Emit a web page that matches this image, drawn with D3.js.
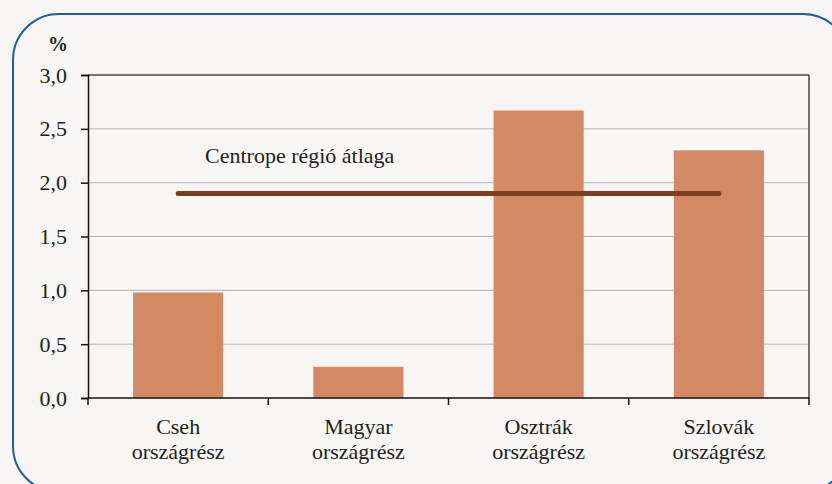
<!DOCTYPE html>
<html lang="hu">
<head>
<meta charset="UTF-8">
<title>Centrope</title>
<style>
  body { margin: 0; background: #f7f6f4; }
  svg { display: block; }
</style>
</head>
<body>
<script src="https://cdn.jsdelivr.net/npm/d3@7"></script>
<script>
    var width = 832,
        height = 484;

    // adatok
    var categories = [["Cseh", "országrész"], ["Magyar", "országrész"], ["Osztrák", "országrész"], ["Szlovák", "országrész"]];
    var values = [0.98, 0.29, 2.67, 2.30];
    var average = 1.90;
    var averageLabel = "Centrope régió átlaga";
    var yTicks = [0, 0.5, 1.0, 1.5, 2.0, 2.5, 3.0];

    var margin = {left: 88, right: 23, top: 75, bottom: 86};
    var font = "'Liberation Serif', 'DejaVu Serif', serif";

    var svg = d3.select("body").append("svg")
        .attr("width", width)
        .attr("height", height);

    svg.append("rect")
        .attr("x", 0).attr("y", 0).attr("width", width).attr("height", height)
        .attr("fill", "#f7f6f4");

    // keret
    svg.append("rect")
        .attr("x", 13).attr("y", 14)
        .attr("width", 836).attr("height", 478)
        .attr("rx", 46).attr("ry", 46)
        .attr("fill", "none")
        .attr("stroke", "#1a5e9f")
        .attr("stroke-width", 2);

    var x = d3.scaleBand()
        .domain(d3.range(categories.length))
        .range([margin.left, width - margin.right])
        .paddingInner(0.5).paddingOuter(0.25);

    var y = d3.scaleLinear()
        .domain([0, 3])
        .range([height - margin.bottom, margin.top]);

    var g = svg.append("g");

    // rácsvonalak
    g.selectAll("line.grid").data(yTicks.slice(1)).enter().append("line")
        .attr("class", "grid")
        .attr("x1", margin.left).attr("x2", width - margin.right)
        .attr("y1", function(d){ return y(d); }).attr("y2", function(d){ return y(d); })
        .attr("stroke", function(d){ return d === 3 ? "#444" : "#b3b3b3"; })
        .attr("stroke-width", function(d){ return d === 3 ? 1.5 : 1; });

    // jobb oldali keret
    g.append("line")
        .attr("x1", width - margin.right).attr("x2", width - margin.right)
        .attr("y1", y(3)).attr("y2", y(0))
        .attr("stroke", "#444").attr("stroke-width", 1.5);

    // oszlopok
    g.selectAll("rect.bar").data(values).enter().append("rect")
        .attr("class", "bar")
        .attr("x", function(d, i){ return x(i); })
        .attr("width", x.bandwidth())
        .attr("y", function(d){ return y(d); })
        .attr("height", function(d){ return y(0) - y(d); })
        .attr("fill", "#d38964");

    // y tengely
    var yAxis = d3.axisLeft(y)
        .tickValues(yTicks)
        .tickSize(7)
        .tickPadding(14)
        .tickFormat(function(d){ return d3.format(".1f")(d).replace(".", ","); });

    var ya = svg.append("g")
        .attr("transform", "translate(" + margin.left + ",0)")
        .call(yAxis);
    ya.attr("font-family", font).attr("font-size", 22);
    ya.select(".domain").attr("stroke", "#111").attr("stroke-width", 1.5);
    ya.selectAll(".tick line").attr("stroke", "#111").attr("stroke-width", 1.5);
    ya.selectAll("text")
        .attr("font-family", font).attr("font-size", 22).attr("fill", "#222");

    // x tengely
    var step = x.step();
    var xEdges = d3.range(categories.length + 1).map(function(i){ return margin.left + i * step; });
    g.append("line")
        .attr("x1", margin.left).attr("x2", width - margin.right)
        .attr("y1", y(0)).attr("y2", y(0))
        .attr("stroke", "#111").attr("stroke-width", 1.5);
    g.selectAll("line.xtick").data(xEdges).enter().append("line")
        .attr("class", "xtick")
        .attr("x1", function(d){ return d; }).attr("x2", function(d){ return d; })
        .attr("y1", y(0)).attr("y2", y(0) + 7)
        .attr("stroke", "#111").attr("stroke-width", 1.5);

    var labels = g.selectAll("text.cat").data(categories).enter().append("text")
        .attr("class", "cat")
        .attr("text-anchor", "middle")
        .attr("font-family", font).attr("font-size", 22).attr("fill", "#222")
        .attr("x", function(d, i){ return x(i) + x.bandwidth() / 2; })
        .attr("y", y(0) + 36);
    labels.selectAll("tspan").data(function(d){ return d; }).enter().append("tspan")
        .attr("x", function(){ return d3.select(this.parentNode).attr("x"); })
        .attr("dy", function(d, i){ return i === 0 ? 0 : 25; })
        .text(function(d){ return d; });

    // átlag vonal
    g.append("line")
        .attr("x1", x(0) + x.bandwidth() / 2)
        .attr("x2", x(categories.length - 1) + x.bandwidth() / 2)
        .attr("y1", y(average)).attr("y2", y(average))
        .attr("stroke", "#7e3f1f")
        .attr("stroke-width", 5)
        .attr("stroke-linecap", "round");

    g.append("text")
        .attr("x", 205).attr("y", 163)
        .attr("font-family", font).attr("font-size", 22).attr("fill", "#222")
        .text(averageLabel);

    svg.append("text")
        .attr("x", 48).attr("y", 51)
        .attr("font-family", font).attr("font-size", 20).attr("font-weight", "bold").attr("fill", "#222")
        .text("%");
</script>
</body>
</html>
